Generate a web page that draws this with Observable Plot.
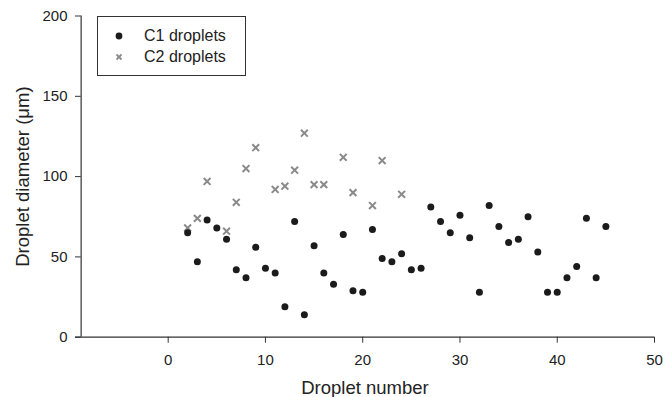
<!DOCTYPE html>
<html>
<head>
<meta charset="utf-8">
<script src="https://cdn.jsdelivr.net/npm/d3@7"></script>
<script src="https://cdn.jsdelivr.net/npm/@observablehq/plot@0.6"></script>
<style>
  html, body { margin: 0; padding: 0; background: #fff; }
  #wrap { position: relative; width: 663px; height: 397px; font-family: "Liberation Sans", Arial, sans-serif; }
  #legend { position: absolute; left: 97px; top: 16px; width: 149px; height: 60px; box-sizing: border-box;
            border: 1px solid #333; background: #fff; font-size: 16px; color: #222; }
  .item { position: absolute; left: 15px; display: flex; align-items: center; line-height: 18px; }
  .item svg { margin-right: 19px; }
</style>
</head>
<body>
<div id="wrap"></div>
<script>
const c1Number = [2,3,4,5,6,7,8,9,10,11,12,13,14,15,16,17,18,19,20,21,22,23,24,25,26,27,28,29,30,31,32,33,34,35,36,37,38,39,40,41,42,43,44,45];
const c1Diameter = [65,47,73,68,61,42,37,56,43,40,19,72,14,57,40,33,64,29,28,67,49,47,52,42,43,81,72,65,76,62,28,82,69,59,61,75,53,28,28,37,44,74,37,69];
const c2Number = [2,3,4,6,7,8,9,11,12,13,14,15,16,18,19,21,22,24];
const c2Diameter = [68,74,97,66,84,105,118,92,94,104,127,95,95,112,90,82,110,89];
const xTicks = [0,10,20,30,40,50];
const yTicks = [0,50,100,150,200];
const seriesNames = ["C1 droplets", "C2 droplets"];

const c1 = c1Number.map((n, i) => ({n, d: c1Diameter[i]}));
const c2 = c2Number.map((n, i) => ({n, d: c2Diameter[i]}));

const C1_COLOR = "#1b1b1b";
const C2_COLOR = "#8a8a8a";

const chart = Plot.plot({
  width: 663,
  height: 397,
  marginLeft: 75,
  marginRight: 9,
  marginTop: 15.5,
  marginBottom: 60.3,
  style: {fontFamily: "'Liberation Sans', Arial, sans-serif", background: "#fff", color: "#222"},
  x: {domain: [-9.53, 50]},
  y: {domain: [0, 200]},
  marks: [
    Plot.ruleY([0], {stroke: "#333", strokeWidth: 1.2}),
    Plot.ruleX([-8.95], {stroke: "#333", strokeWidth: 1.2}),
    Plot.axisY({ticks: yTicks, tickSize: 5.7, dx: 5.7, tickPadding: 8, fontSize: 15, label: null, stroke: "#333"}),
    Plot.axisX({ticks: xTicks, tickSize: 6, tickPadding: 11, fontSize: 15, label: null, stroke: "#333"}),
    Plot.text(["Droplet number"], {frameAnchor: "bottom", dy: 51, fontSize: 18.5, fill: "#222", textAnchor: "middle", lineAnchor: "middle"}),
    Plot.text(["Droplet diameter (\u03bcm)"], {frameAnchor: "left", dx: -52, rotate: -90, fontSize: 18.5, fill: "#222", textAnchor: "middle", lineAnchor: "middle"}),
    Plot.dot(c2, {x: "n", y: "d", symbol: "times", r: 3.2, stroke: C2_COLOR, strokeWidth: 2}),
    Plot.dot(c1, {x: "n", y: "d", r: 3.5, fill: C1_COLOR, stroke: "none"})
  ]
});

const wrap = document.getElementById("wrap");
wrap.appendChild(chart);

const legend = document.createElement("div");
legend.id = "legend";
legend.innerHTML = `
  <div class="item" style="top:10px"><svg width="12" height="12"><circle cx="6" cy="6" r="3.4" fill="${C1_COLOR}"/></svg><span>${seriesNames[0]}</span></div>
  <div class="item" style="top:31px"><svg width="12" height="12"><path d="M3.5,3.5L8.5,8.5M8.5,3.5L3.5,8.5" stroke="${C2_COLOR}" stroke-width="1.8"/></svg><span>${seriesNames[1]}</span></div>`;
wrap.appendChild(legend);
</script>
</body>
</html>
